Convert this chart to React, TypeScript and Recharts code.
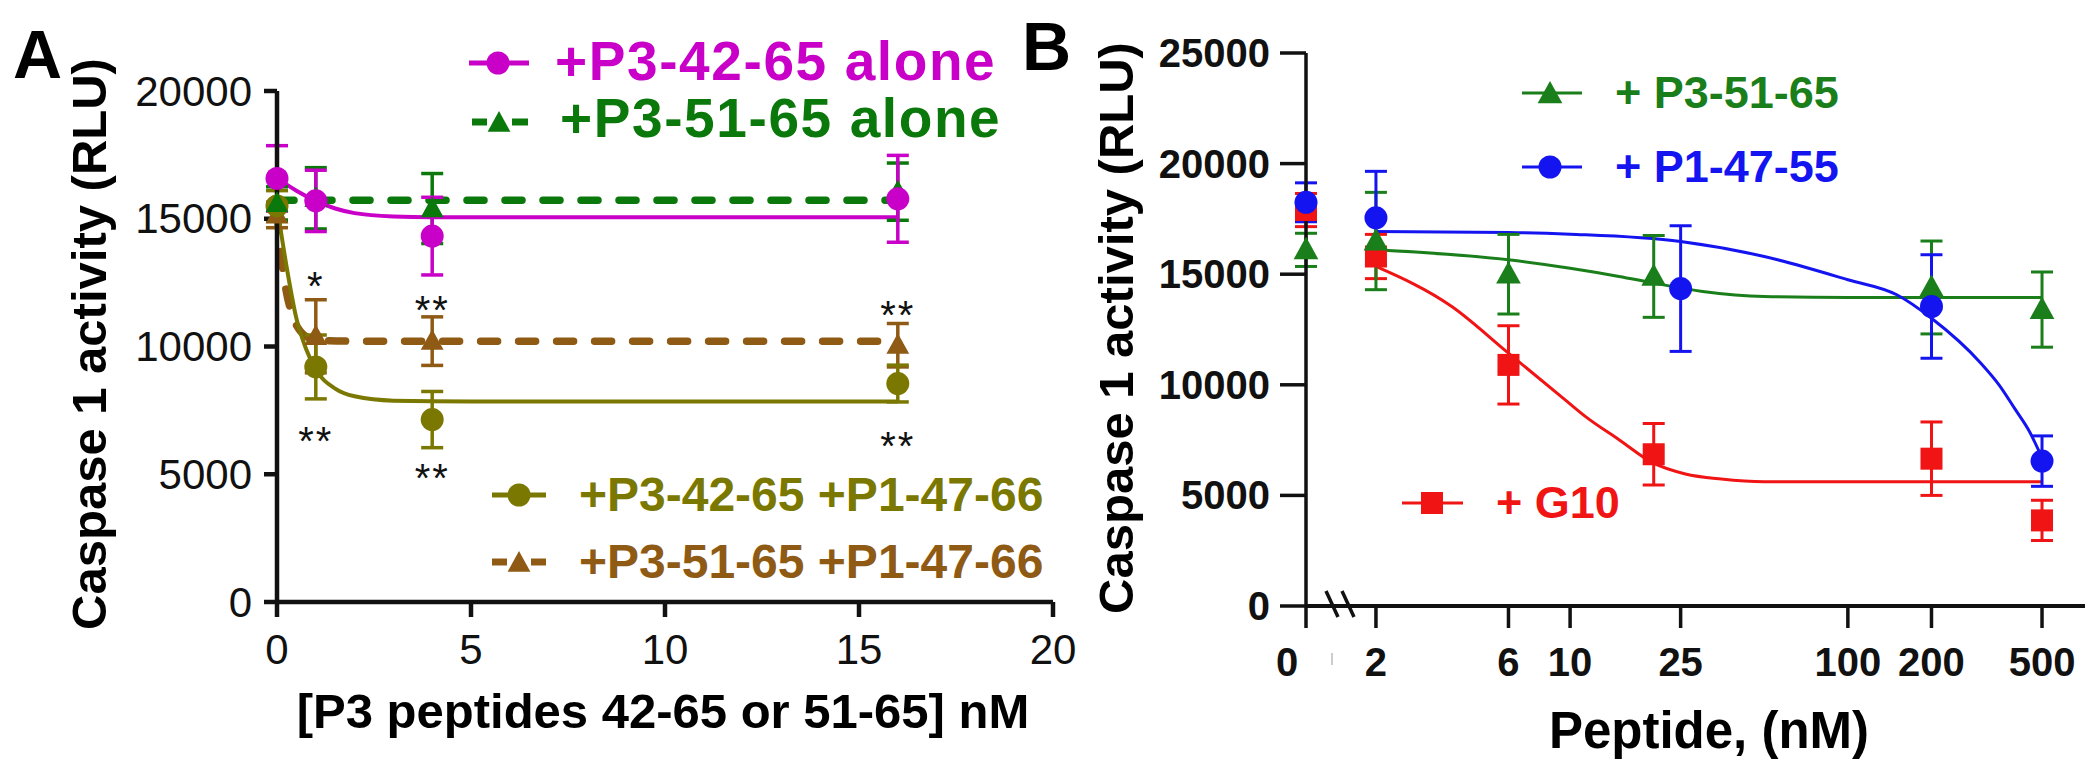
import React from 'react';
import { ComposedChart, Line, Scatter, XAxis, YAxis, ErrorBar } from 'recharts';

const FONT = "'Liberation Sans', Arial, Helvetica, sans-serif";

// ---------------- Panel A data ----------------
const concA = [0, 1, 4, 16];
const p342Alone = [16580, 15700, 14320, 15780];
const p342AloneErr = [1280, 1200, 1520, 1700];
const p351Alone = [15600, 15800, 15400, 16060];
const p351AloneErr = [650, 1200, 1370, 1120];
const p342P1 = [15500, 9200, 7140, 8550];
const p342P1Err = [600, 1250, 1100, 720];
const p351P1 = [15150, 10400, 10210, 10050];
const p351P1Err = [500, 1430, 950, 850];

// fitted curves
const fit342AloneX = [0, 0.5, 1, 1.5, 2, 3, 4, 16];
const fit342AloneY = [16580, 16100, 15700, 15400, 15220, 15090, 15060, 15060];
const fit351AloneX = [0, 16];
const fit351AloneY = [15725, 15725];
const fit342P1X = [0, 0.25, 0.5, 0.75, 1, 1.5, 2, 3, 5, 16];
const fit342P1Y = [15500, 13100, 11100, 9900, 9100, 8350, 8050, 7880, 7850, 7850];
const fit351P1X = [0, 0.2, 0.4, 0.6, 0.8, 1, 2, 16];
const fit351P1Y = [15200, 12500, 11200, 10600, 10350, 10250, 10210, 10210];

const starX = [1, 4, 16, 1, 4, 16];
const starY = [12700, 11730, 11530, 6630, 5180, 6430];
const starText = ['*', '**', '**', '**', '**', '**'];

const xTicksA = [0, 5, 10, 15, 20];
const yTicksA = [0, 5000, 10000, 15000, 20000];

// ---------------- Panel B data ----------------
const concB1 = [0, 2, 6, 20, 200, 500];
const p351B = [16100, 16500, 15000, 14900, 14400, 13400];
const p351BErr = [750, 2200, 1800, 1850, 2100, 1700];
const g10 = [17900, 15800, 10900, 6860, 6660, 3870];
const g10Err = [750, 1000, 1770, 1390, 1660, 910];
const concB2 = [0, 2, 25, 200, 500];
const p147 = [18250, 17550, 14350, 13540, 6550];
const p147Err = [880, 2100, 2840, 2340, 1140];

const fitP351BX = [2, 6, 10, 15, 20, 30, 50, 100, 500];
const fitP351BY = [16100, 15650, 15270, 14900, 14600, 14220, 13990, 13950, 13950];
const fitG10X = [2, 3.75, 6, 9.6, 11.4, 15, 19.8, 26, 35, 50, 100, 500];
const fitG10Y = [15350, 13540, 11430, 9320, 8550, 7520, 6480, 5970, 5740, 5620, 5620, 5620];
const fitP147X = [2, 6, 10, 25, 50, 100, 150, 200, 300, 350, 400, 450, 500];
const fitP147Y = [16930, 16890, 16810, 16480, 15800, 14750, 14070, 13010, 11000, 10000, 8900, 7900, 6700];

const xTicksB = [0, 2, 6, 10, 25, 100, 200, 500];
const yTicksB = [0, 5000, 10000, 15000, 20000, 25000];

// the "0" group sits at the left end of the broken log axis
const ZERO_POS = 1.12;
const X_MAX_B = 714;

// colours
const MAGENTA = '#C800C8';
const GREEN_A = '#0A780A';
const OLIVE = '#7A7800';
const BROWN = '#8E5A14';
const BLUE = '#1414F0';
const RED = '#F01414';
const GREEN_B = '#1A7F1A';

const rows = (xs: number[], ys: number[], es?: number[], bx = false) =>
  xs.map((x, i) => ({ x: bx && x === 0 ? ZERO_POS : x, y: ys[i], err: es ? es[i] : 0 }));

const circleShape = (color: string, r: number) => (p: any) =>
  p.cx == null ? null : <circle cx={p.cx} cy={p.cy} r={r} fill={color} />;
const triShape = (color: string, h: number) => (p: any) =>
  p.cx == null ? null : (
    <polygon
      points={`${p.cx},${p.cy - h} ${p.cx + h * 0.95},${p.cy + h * 0.72} ${p.cx - h * 0.95},${p.cy + h * 0.72}`}
      fill={color}
    />
  );
const squareShape = (color: string, s: number) => (p: any) =>
  p.cx == null ? null : <rect x={p.cx - s / 2} y={p.cy - s / 2} width={s} height={s} fill={color} />;
const starShape = (p: any) =>
  p.cx == null ? null : (
    <text x={p.cx} y={p.cy + 22} textAnchor="middle" fontSize={40} fontFamily={FONT} fill="#111" letterSpacing={2}>
      {p.payload.t}
    </text>
  );

const YTickA = (p: any) => (
  <text x={p.x} y={p.y} textAnchor="end" dominantBaseline="central" fontSize={42} fontFamily={FONT} fill="#111">
    {p.payload.value}
  </text>
);
const XTickA = (p: any) => (
  <text x={p.x} y={p.y + 47} textAnchor="middle" fontSize={42} fontFamily={FONT} fill="#111">
    {p.payload.value}
  </text>
);
const YTickB = (p: any) => (
  <text x={p.x} y={p.y} textAnchor="end" dominantBaseline="central" fontSize={40} fontWeight="bold" fontFamily={FONT} fill="#111">
    {p.payload.value}
  </text>
);
const XTickB = (p: any) => {
  const v = p.payload.value;
  if (v === ZERO_POS) {
    return (
      <g>
        <text x={p.x - 19} y={p.y + 48} textAnchor="middle" fontSize={40} fontWeight="bold" fontFamily={FONT} fill="#111">
          0
        </text>
        <line x1={p.x + 20} y1={p.y - 37} x2={p.x + 32} y2={p.y - 11} stroke="#111" strokeWidth={3.5} />
        <line x1={p.x + 36} y1={p.y - 37} x2={p.x + 48} y2={p.y - 11} stroke="#111" strokeWidth={3.5} />
        <line x1={p.x + 26} y1={p.y + 25} x2={p.x + 26} y2={p.y + 37} stroke="#ccc" strokeWidth={2} />
      </g>
    );
  }
  return (
    <text x={p.x} y={p.y + 48} textAnchor="middle" fontSize={40} fontWeight="bold" fontFamily={FONT} fill="#111">
      {v}
    </text>
  );
};

const dashProps = { strokeDasharray: '17 21', strokeLinecap: 'round' as const };

function PanelA() {
  const stars = starX.map((x, i) => ({ x, y: starY[i], t: starText[i] }));
  return (
    <ComposedChart width={1080} height={776} margin={{ top: 91, right: 27, bottom: 114, left: 157 }}>
      <XAxis
        type="number"
        dataKey="x"
        domain={[0, 20]}
        ticks={xTicksA}
        height={60}
        tickSize={15}
        tickMargin={0}
        axisLine={{ stroke: '#111', strokeWidth: 4.5 }}
        tickLine={{ stroke: '#111', strokeWidth: 4.5 }}
        tick={XTickA}
      />
      <YAxis
        type="number"
        domain={[0, 20000]}
        ticks={yTicksA}
        width={120}
        tickSize={13}
        tickMargin={12}
        axisLine={{ stroke: '#111', strokeWidth: 4.5 }}
        tickLine={{ stroke: '#111', strokeWidth: 4.5 }}
        tick={YTickA}
      />
      <Line data={rows(fit351AloneX, fit351AloneY)} dataKey="y" type="linear" stroke={GREEN_A} strokeWidth={7.5} {...dashProps} dot={false} isAnimationActive={false} />
      <Line data={rows(fit351P1X, fit351P1Y)} dataKey="y" type="monotone" stroke={BROWN} strokeWidth={7.5} {...dashProps} dot={false} isAnimationActive={false} />
      <Line data={rows(fit342AloneX, fit342AloneY)} dataKey="y" type="monotone" stroke={MAGENTA} strokeWidth={4} dot={false} isAnimationActive={false} />
      <Line data={rows(fit342P1X, fit342P1Y)} dataKey="y" type="monotone" stroke={OLIVE} strokeWidth={4} dot={false} isAnimationActive={false} />
      <Scatter data={rows(concA, p351P1, p351P1Err)} dataKey="y" shape={triShape(BROWN, 12)} isAnimationActive={false}>
        <ErrorBar dataKey="err" direction="y" width={11} stroke={BROWN} strokeWidth={3.5} />
      </Scatter>
      <Scatter data={rows(concA, p342P1, p342P1Err)} dataKey="y" shape={circleShape(OLIVE, 11.5)} isAnimationActive={false}>
        <ErrorBar dataKey="err" direction="y" width={11} stroke={OLIVE} strokeWidth={3.5} />
      </Scatter>
      <Scatter data={rows(concA, p351Alone, p351AloneErr)} dataKey="y" shape={triShape(GREEN_A, 12)} isAnimationActive={false}>
        <ErrorBar dataKey="err" direction="y" width={11} stroke={GREEN_A} strokeWidth={3.5} />
      </Scatter>
      <Scatter data={rows(concA, p342Alone, p342AloneErr)} dataKey="y" shape={circleShape(MAGENTA, 11.5)} isAnimationActive={false}>
        <ErrorBar dataKey="err" direction="y" width={11} stroke={MAGENTA} strokeWidth={3.5} />
      </Scatter>
      <Scatter data={stars} dataKey="y" shape={starShape} isAnimationActive={false} />
    </ComposedChart>
  );
}

function PanelB() {
  return (
    <ComposedChart width={1100} height={776} margin={{ top: 53, right: 15, bottom: 110, left: 186 }}>
      <XAxis
        type="number"
        dataKey="x"
        scale="log"
        domain={[ZERO_POS, X_MAX_B]}
        ticks={xTicksB.map((t) => (t === 0 ? ZERO_POS : t))}
        height={60}
        tickSize={22}
        tickMargin={0}
        axisLine={{ stroke: '#111', strokeWidth: 4 }}
        tickLine={{ stroke: '#111', strokeWidth: 3.5 }}
        tick={XTickB}
      />
      <YAxis
        type="number"
        domain={[0, 25000]}
        ticks={yTicksB}
        width={120}
        tickSize={26}
        tickMargin={10}
        axisLine={{ stroke: '#111', strokeWidth: 3.5 }}
        tickLine={{ stroke: '#111', strokeWidth: 3.5 }}
        tick={YTickB}
      />
      <Line data={rows(fitP351BX, fitP351BY)} dataKey="y" type="monotone" stroke={GREEN_B} strokeWidth={3} dot={false} isAnimationActive={false} />
      <Line data={rows(fitG10X, fitG10Y)} dataKey="y" type="monotone" stroke={RED} strokeWidth={3} dot={false} isAnimationActive={false} />
      <Line data={rows(fitP147X, fitP147Y)} dataKey="y" type="monotone" stroke={BLUE} strokeWidth={3} dot={false} isAnimationActive={false} />
      <Scatter data={rows(concB1, g10, g10Err, true)} dataKey="y" shape={squareShape(RED, 22)} isAnimationActive={false}>
        <ErrorBar dataKey="err" direction="y" width={11} stroke={RED} strokeWidth={3} />
      </Scatter>
      <Scatter data={rows(concB1, p351B, p351BErr, true)} dataKey="y" shape={triShape(GREEN_B, 13)} isAnimationActive={false}>
        <ErrorBar dataKey="err" direction="y" width={11} stroke={GREEN_B} strokeWidth={3} />
      </Scatter>
      <Scatter data={rows(concB2, p147, p147Err, true)} dataKey="y" shape={circleShape(BLUE, 11.5)} isAnimationActive={false}>
        <ErrorBar dataKey="err" direction="y" width={11} stroke={BLUE} strokeWidth={3} />
      </Scatter>
    </ComposedChart>
  );
}

function Overlay() {
  const tri = (cx: number, cy: number, h: number, c: string) => (
    <polygon points={`${cx},${cy - h} ${cx + h * 0.95},${cy + h * 0.72} ${cx - h * 0.95},${cy + h * 0.72}`} fill={c} />
  );
  return (
    <svg width={2100} height={776} style={{ position: 'absolute', left: 0, top: 0, pointerEvents: 'none' }}>
      {/* panel letters */}
      <text x={13} y={78} fontSize={68} fontWeight="bold" fontFamily={FONT} fill="#000">A</text>
      <text x={1022} y={70} fontSize={68} fontWeight="bold" fontFamily={FONT} fill="#000">B</text>

      {/* axis titles A */}
      <text x={106} y={344} transform="rotate(-90 106 344)" textAnchor="middle" fontSize={49} fontWeight="bold" fontFamily={FONT} fill="#000">
        Caspase 1 activity (RLU)
      </text>
      <text x={663} y={728} textAnchor="middle" fontSize={49} fontWeight="bold" fontFamily={FONT} fill="#000">
        [P3 peptides 42-65 or 51-65] nM
      </text>
      {/* axis titles B */}
      <text x={1133} y={328} transform="rotate(-90 1133 328)" textAnchor="middle" fontSize={49} fontWeight="bold" fontFamily={FONT} fill="#000">
        Caspase 1 activity (RLU)
      </text>
      <text x={1709} y={748} textAnchor="middle" fontSize={51} fontWeight="bold" fontFamily={FONT} fill="#000">
        Peptide, (nM)
      </text>

      {/* legend A top */}
      <line x1={469} y1={63} x2={529} y2={63} stroke={MAGENTA} strokeWidth={5} />
      <circle cx={498} cy={63} r={11.5} fill={MAGENTA} />
      <text x={555} y={80} fontSize={55} letterSpacing={1.6} fontWeight="bold" fontFamily={FONT} fill={MAGENTA}>+P3-42-65 alone</text>
      <line x1={472} y1={122} x2={487} y2={122} stroke={GREEN_A} strokeWidth={7} />
      <line x1={512} y1={122} x2={528} y2={122} stroke={GREEN_A} strokeWidth={7} />
      {tri(499, 123, 12, GREEN_A)}
      <text x={560} y={137} fontSize={55} letterSpacing={1.6} fontWeight="bold" fontFamily={FONT} fill={GREEN_A}>+P3-51-65 alone</text>

      {/* legend A bottom */}
      <line x1={492} y1={495} x2={546} y2={495} stroke={OLIVE} strokeWidth={5} />
      <circle cx={519} cy={495} r={11.5} fill={OLIVE} />
      <text x={579} y={511} fontSize={48} fontWeight="bold" fontFamily={FONT} fill={OLIVE}>+P3-42-65 +P1-47-66</text>
      <line x1={492} y1={562} x2={507} y2={562} stroke={BROWN} strokeWidth={7} />
      <line x1={531} y1={562} x2={546} y2={562} stroke={BROWN} strokeWidth={7} />
      {tri(519, 563, 12, BROWN)}
      <text x={579} y={578} fontSize={48} fontWeight="bold" fontFamily={FONT} fill={BROWN}>+P3-51-65 +P1-47-66</text>

      {/* legend B */}
      <line x1={1522} y1={93} x2={1582} y2={93} stroke={GREEN_B} strokeWidth={3} />
      {tri(1550, 94, 13, GREEN_B)}
      <text x={1615} y={108} fontSize={45} fontWeight="bold" fontFamily={FONT} fill={GREEN_B}>+ P3-51-65</text>
      <line x1={1522} y1={167} x2={1582} y2={167} stroke={BLUE} strokeWidth={3} />
      <circle cx={1550} cy={167} r={11.5} fill={BLUE} />
      <text x={1615} y={182} fontSize={45} fontWeight="bold" fontFamily={FONT} fill={BLUE}>+ P1-47-55</text>
      <line x1={1402} y1={503} x2={1463} y2={503} stroke={RED} strokeWidth={3} />
      <rect x={1421} y={492} width={22} height={22} fill={RED} />
      <text x={1496} y={518} fontSize={45} fontWeight="bold" fontFamily={FONT} fill={RED}>+ G10</text>
    </svg>
  );
}

export default function App() {
  return (
    <div style={{ position: 'absolute', left: 0, top: 0, width: 2100, height: 776, background: '#fff', overflow: 'hidden' }}>
      <div style={{ position: 'absolute', left: 0, top: 0 }}>
        <PanelA />
      </div>
      <div style={{ position: 'absolute', left: 1000, top: 0 }}>
        <PanelB />
      </div>
      <Overlay />
    </div>
  );
}
